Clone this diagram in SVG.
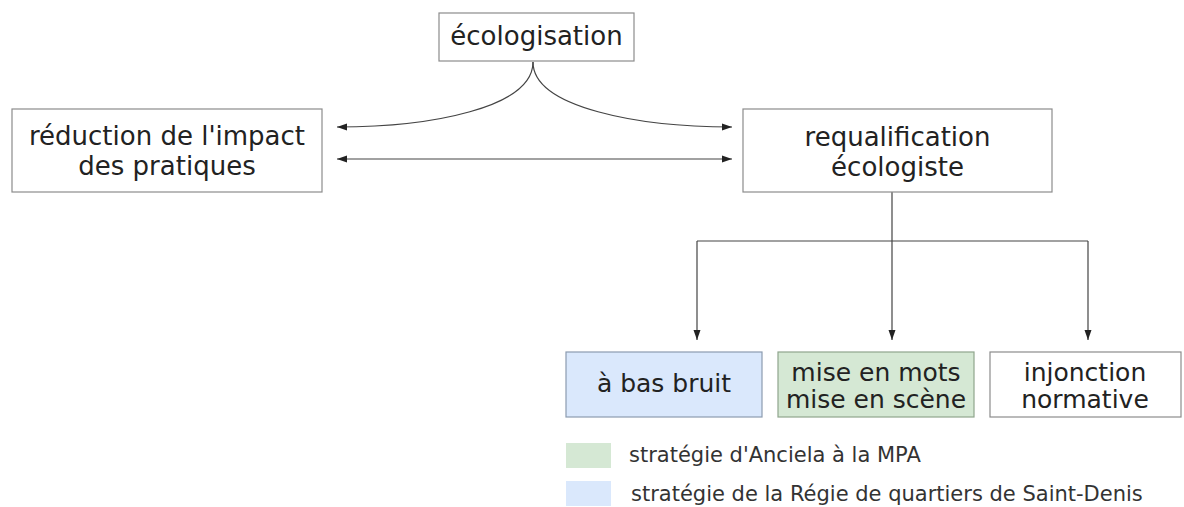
<svg xmlns="http://www.w3.org/2000/svg" width="1184" height="507" viewBox="0 0 1184 507">
<style>
.box{fill:#ffffff;stroke:#8c8c8c;stroke-width:1.2}
.blue{fill:#dae8fc;stroke:#8c9bb0;stroke-width:1.2}
.green{fill:#d5e8d4;stroke:#8fa58d;stroke-width:1.2}
.t{font-family:"DejaVu Sans",Verdana,sans-serif;font-size:26px;fill:#222;text-anchor:middle}
.tb{font-family:"DejaVu Sans",Verdana,sans-serif;font-size:25px;fill:#222;text-anchor:middle}
.lg{font-family:"DejaVu Sans",Verdana,sans-serif;font-size:21px;fill:#333}
.c{fill:none;stroke:#444;stroke-width:1.2}
</style>
<defs>
<marker id="ah" viewBox="0 0 10 10" refX="10" refY="5" markerWidth="10" markerHeight="10" markerUnits="userSpaceOnUse" orient="auto-start-reverse">
<path d="M0,1.5 L10,5 L0,8.5 Z" fill="#222"/>
</marker>
</defs>
<rect width="1184" height="507" fill="#ffffff"/>
<g id="connectors">
<path class="c" d="M533,62 C533,108 430,127 337,127" marker-end="url(#ah)"/>
<path class="c" d="M533,62 C533,108 640,127 732,127" marker-end="url(#ah)"/>
<path class="c" d="M337,159 L732,159" marker-start="url(#ah)" marker-end="url(#ah)"/>
<path class="c" d="M892,192 L892,241"/>
<path class="c" d="M697,241 L1088,241"/>
<path class="c" d="M697,241 L697,340" marker-end="url(#ah)"/>
<path class="c" d="M892,241 L892,340" marker-end="url(#ah)"/>
<path class="c" d="M1088,241 L1088,340" marker-end="url(#ah)"/>
</g>
<g id="ecologisation">
<rect class="box" x="439" y="13" width="195" height="48"/>
<text class="t" x="536.5" y="45">écologisation</text>
</g>
<g id="reduction">
<rect class="box" x="12" y="109" width="310" height="83"/>
<text class="t" x="167" y="145">réduction de l'impact</text>
<text class="t" x="167" y="175">des pratiques</text>
</g>
<g id="requalification">
<rect class="box" x="743" y="109" width="309" height="83"/>
<text class="t" x="897.5" y="146">requalification</text>
<text class="t" x="897.5" y="176">écologiste</text>
</g>
<g id="bas-bruit">
<rect class="blue" x="566" y="352" width="196" height="65"/>
<text class="tb" x="664" y="392">à bas bruit</text>
</g>
<g id="mise-en-mots">
<rect class="green" x="778" y="352" width="196" height="65"/>
<text class="tb" x="876" y="381">mise en mots</text>
<text class="tb" x="876" y="408">mise en scène</text>
</g>
<g id="injonction">
<rect class="box" x="990" y="352" width="191" height="65"/>
<text class="tb" x="1085" y="381">injonction</text>
<text class="tb" x="1085" y="408">normative</text>
</g>
<g id="legend">
<rect x="566" y="443" width="45" height="25" fill="#d5e8d4"/>
<text class="lg" x="629" y="462">stratégie d'Anciela à la MPA</text>
<rect x="566" y="481" width="45" height="25" fill="#dae8fc"/>
<text class="lg" x="631" y="501">stratégie de la Régie de quartiers de Saint-Denis</text>
</g>
</svg>
